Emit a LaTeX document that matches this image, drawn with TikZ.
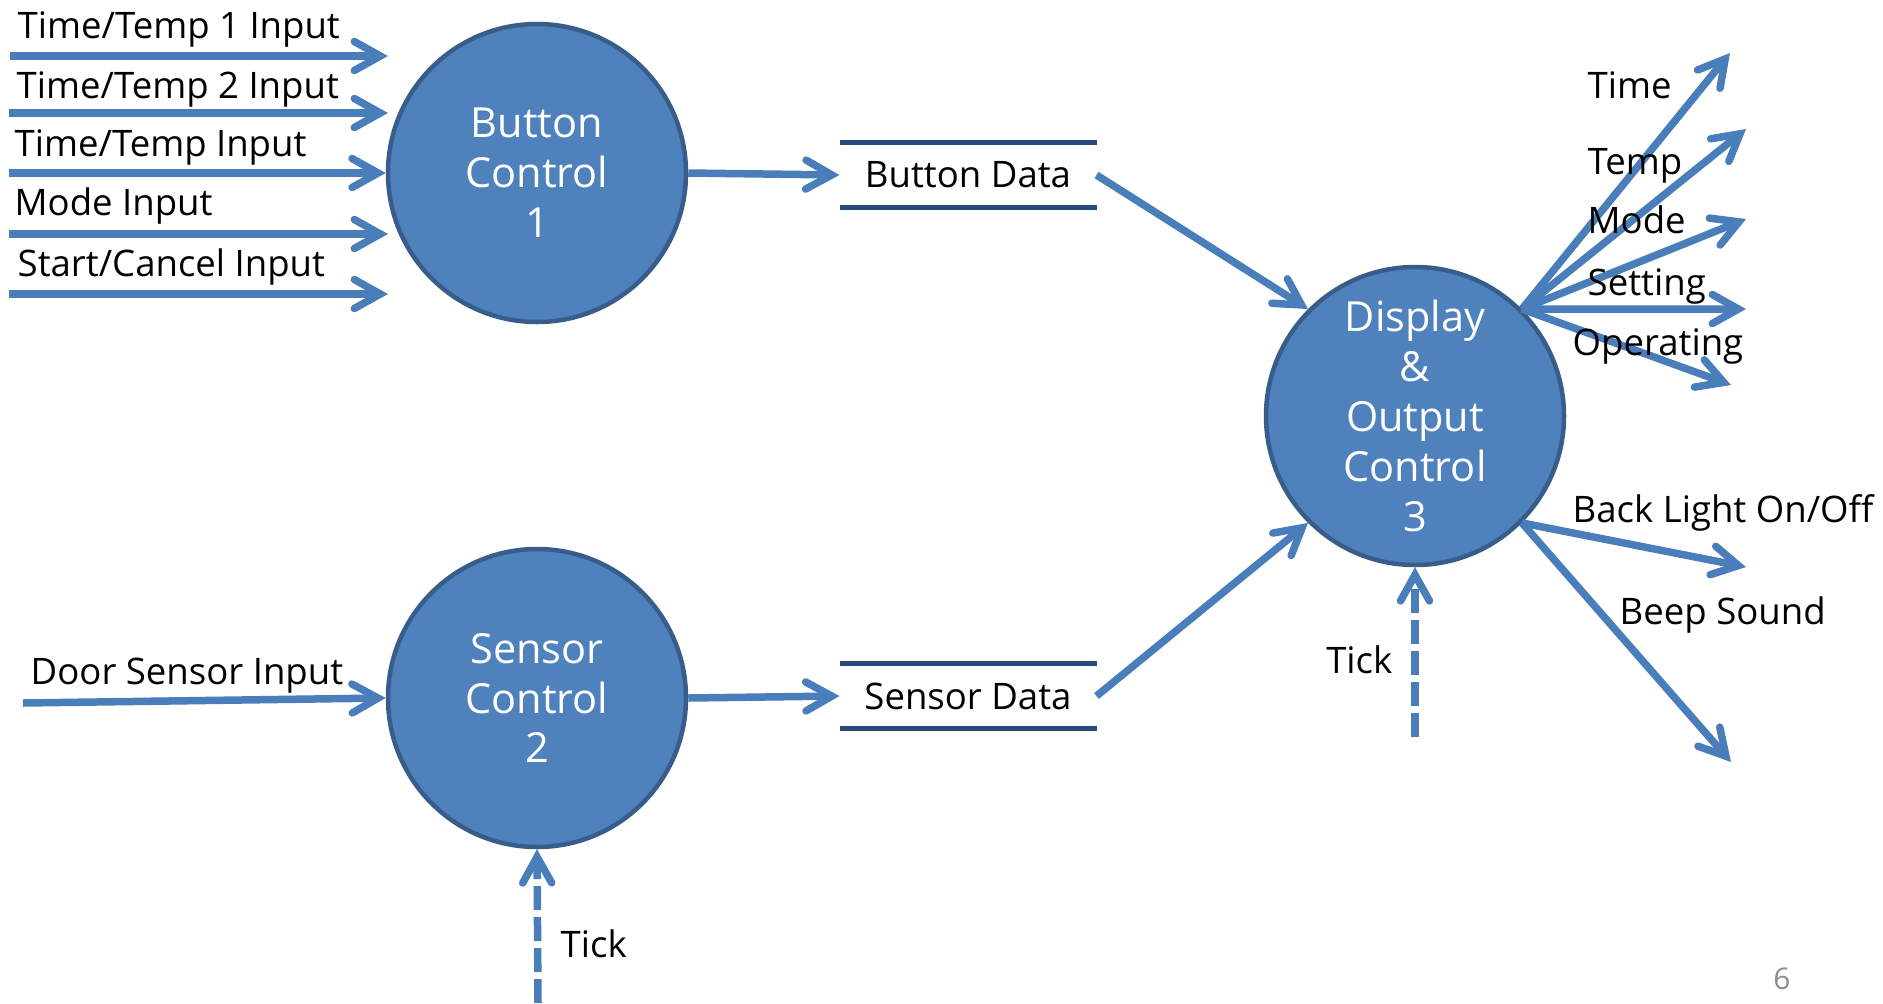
\documentclass[tikz,border=0pt]{standalone}
\usepackage{fontspec}
\setmainfont{Open Sans}
\usetikzlibrary{arrows.meta}
\definecolor{bubblefill}{HTML}{4F81BD}
\definecolor{bubbleline}{HTML}{385D8A}
\definecolor{flowblue}{HTML}{4A7EBB}
\definecolor{storeblue}{HTML}{264A7E}
\definecolor{pagegray}{HTML}{8C8C8C}
\tikzset{
  bubble/.style={circle, fill=bubblefill, draw=bubbleline, line width=0.45mm, minimum size=29.8mm, inner sep=0pt, align=center, text=white, font=\fontsize{11.8}{14.2}\selectfont},
  datastore/.style={minimum width=25.7mm, minimum height=6.5mm, inner sep=0pt, outer sep=0pt, font=\fontsize{10.4}{12}\selectfont},
  storeedge/.style={draw=storeblue, line width=0.5mm},
  flow/.style={draw=flowblue, line width=0.75mm, -{Straight Barb[length=2.6mm, width=2.9mm, line cap=round]}},
  tickflow/.style={flow, dash pattern=on 2.4mm off 0.7mm},
  lbl/.style={anchor=base west, inner sep=0pt, font=\fontsize{10.4}{12}\selectfont}
}
\begin{document}
\begin{tikzpicture}[x=0.1mm, y=-0.1mm]
    \useasboundingbox (0,0) rectangle (1883,1003);
    \node[bubble] (bc) at (537,173) {Button\\Control\\1};
    \node[bubble] (sc) at (537,698) {Sensor\\Control\\2};
    \node[bubble] (dc) at (1415,416) {Display\\\&\\Output\\Control\\3};
    \node[datastore] (bd) at (968,175) {Button Data};
    \node[datastore] (sd) at (968,696) {Sensor Data};
    \draw[storeedge] (bd.north west) -- (bd.north east);
    \draw[storeedge] (bd.south west) -- (bd.south east);
    \draw[storeedge] (sd.north west) -- (sd.north east);
    \draw[storeedge] (sd.south west) -- (sd.south east);
    \coordinate (in1) at (10,56);
    \coordinate (at1) at (388,56);
    \coordinate (in2) at (9,113);
    \coordinate (at2) at (388,113);
    \coordinate (in3) at (9,173);
    \coordinate (in4) at (9,234);
    \coordinate (at4) at (388,234);
    \coordinate (in5) at (9,294);
    \coordinate (at5) at (388,294);
    \coordinate (door) at (23,703);
    \draw[flow] (in1) -- (at1);
    \draw[flow] (in2) -- (at2);
    \draw[flow] (in3) -- (bc.west);
    \draw[flow] (in4) -- (at4);
    \draw[flow] (in5) -- (at5);
    \draw[flow] (door) -- (sc.west);
    \node[lbl] (l1) at (17,38) {Time/Temp 1 Input};
    \node[lbl] (l2) at (16,98) {Time/Temp 2 Input};
    \node[lbl] (l3) at (14,156) {Time/Temp Input};
    \node[lbl] (l4) at (14,215) {Mode Input};
    \node[lbl] (l5) at (17,276) {Start/Cancel Input};
    \node[lbl] (l6) at (30,684) {Door Sensor Input};
    \draw[flow] (bc.east) -- (bd.west);
    \draw[flow] (sc.east) -- (sd.west);
    \draw[flow] (bd.east) -- (dc.135);
    \draw[flow] (sd.east) -- (dc.225);
    \coordinate (tk2) at (538,1003);
    \coordinate (tk3) at (1415,737);
    \draw[tickflow] (tk2) -- (sc.south);
    \draw[tickflow] (tk3) -- (dc.south);
    \node[lbl] (t2) at (560,957) {Tick};
    \node[lbl, anchor=base east] (t3) at (1393,673) {Tick};
    \coordinate (o1) at (1730,53);
    \coordinate (o2) at (1746,129);
    \coordinate (o3) at (1746,219);
    \coordinate (o4) at (1746,309);
    \coordinate (o5) at (1731,385);
    \coordinate (o6) at (1746,567);
    \coordinate (o7) at (1731,762);
    \draw[flow] (dc.45) -- (o1);
    \draw[flow] (dc.45) -- (o2);
    \draw[flow] (dc.45) -- (o3);
    \draw[flow] (dc.45) -- (o4);
    \draw[flow] (dc.45) -- (o5);
    \draw[flow] (dc.-45) -- (o6);
    \draw[flow] (dc.-45) -- (o7);
    \node[lbl] (m1) at (1587,98) {Time};
    \node[lbl] (m2) at (1587,174) {Temp};
    \node[lbl] (m3) at (1587,233) {Mode};
    \node[lbl] (m4) at (1587,295) {Setting};
    \node[lbl] (m5) at (1572,355) {Operating};
    \node[lbl] (m6) at (1572,522) {Back Light On/Off};
    \node[lbl] (m7) at (1619,624) {Beep Sound};
    \node[font=\fontsize{8.5}{10}\selectfont, text=pagegray] (pg) at (1782,979) {6};
\end{tikzpicture}
\end{document}
